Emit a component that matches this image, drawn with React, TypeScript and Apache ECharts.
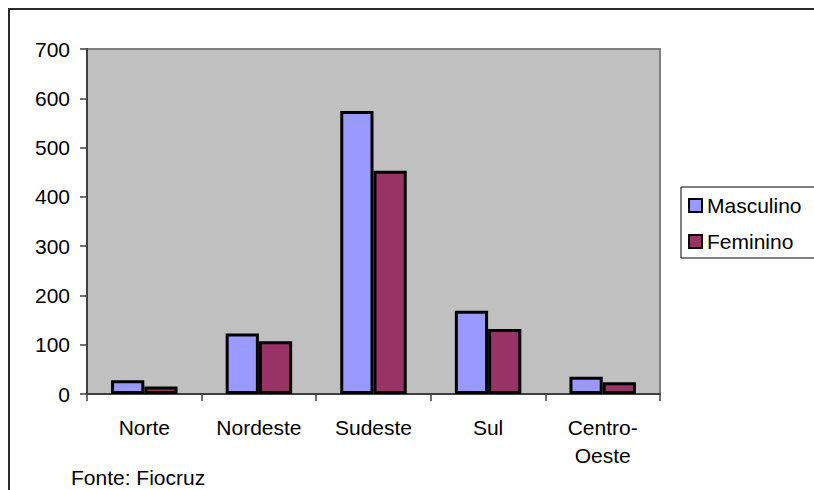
import React, { useEffect, useRef } from "react";
import * as echarts from "echarts";

const categories = ["Norte", "Nordeste", "Sudeste", "Sul", "Centro-\nOeste"];
const masculino = [28, 123, 574, 169, 35];
const feminino = [15, 107, 453, 132, 24];
const yTicks = { min: 0, max: 700, interval: 100 };
const sourceNote = "Fonte: Fiocruz";

const FONT = "'Liberation Sans', Arial, sans-serif";

export default function App() {
  const ref = useRef<HTMLDivElement>(null);
  useEffect(() => {
    if (!ref.current) return;
    const chart = echarts.init(ref.current, undefined, { renderer: "svg" });
    const barStyle = (color: string) => ({
      color,
      borderColor: "#000",
      borderWidth: 3,
    });
    chart.setOption({
      animation: false,
      backgroundColor: "#fff",
      textStyle: { fontFamily: FONT },
      grid: {
        left: 87,
        top: 49,
        right: 154,
        bottom: 96,
        show: true,
        backgroundColor: "#C0C0C0",
        borderColor: "#808080",
        borderWidth: 2,
      },
      legend: {
        orient: "vertical",
        left: 681,
        top: 187,
        padding: [8, 40, 6, 7],
        itemGap: 15,
        itemWidth: 13,
        itemHeight: 13,
        icon: "rect",
        borderColor: "#000",
        borderWidth: 1,
        backgroundColor: "#fff",
        itemStyle: { borderColor: "#000", borderWidth: 2 },
        textStyle: { fontFamily: FONT, fontSize: 21, color: "#000", lineHeight: 20, padding: [0, 0, 0, 0] },
        data: ["Masculino", "Feminino"],
      },
      xAxis: {
        type: "category",
        data: categories,
        axisLine: { lineStyle: { color: "#404040", width: 2 } },
        axisTick: { show: true, length: 7, lineStyle: { color: "#404040", width: 1.5 } },
        axisLabel: {
          fontFamily: FONT,
          fontSize: 21,
          color: "#000",
          margin: 19,
          lineHeight: 28,
          interval: 0,
        },
      },
      yAxis: {
        type: "value",
        min: yTicks.min,
        max: yTicks.max,
        interval: yTicks.interval,
        splitLine: { show: false },
        axisLine: { show: true, lineStyle: { color: "#404040", width: 2 } },
        axisTick: { show: true, length: 7, lineStyle: { color: "#404040", width: 1.5 } },
        axisLabel: { fontFamily: FONT, fontSize: 21, color: "#000", margin: 17 },
      },
      series: [
        {
          name: "Masculino",
          type: "bar",
          data: masculino,
          barGap: "0%",
          barCategoryGap: "42%",
          itemStyle: barStyle("#9999FF"),
        },
        {
          name: "Feminino",
          type: "bar",
          data: feminino,
          barGap: "0%",
          barCategoryGap: "42%",
          itemStyle: barStyle("#993366"),
        },
      ],
      graphic: [
        {
          type: "rect",
          shape: { x: 9, y: 9, width: 820, height: 500 },
          style: { fill: "none", stroke: "#2a2a2a", lineWidth: 2 },
          silent: true,
          z: 100,
        },
        {
          type: "text",
          left: 71,
          top: 467,
          style: { text: sourceNote, font: `21px ${FONT}`, fill: "#000" },
        },
      ],
    });
    return () => chart.dispose();
  }, []);
  return (
    <div
      ref={ref}
      style={{ position: "fixed", left: 0, top: 0, width: 814, height: 490 }}
    />
  );
}
